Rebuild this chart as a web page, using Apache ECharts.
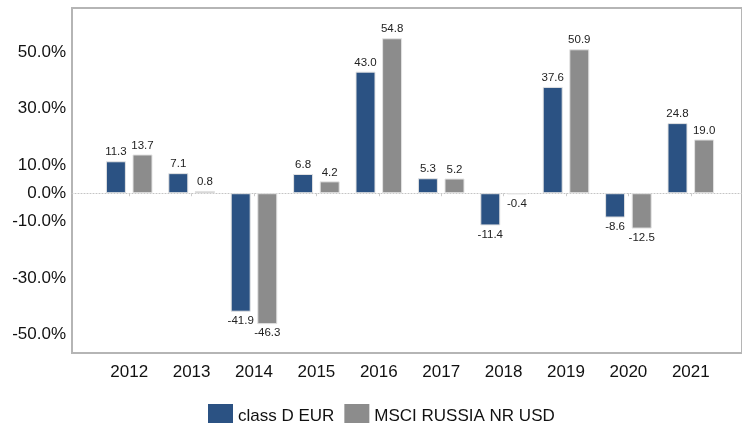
<!DOCTYPE html>
<html>
<head>
<meta charset="utf-8">
<script src="https://cdn.jsdelivr.net/npm/echarts@6/dist/echarts.min.js"></script>
<style>
  html, body { margin: 0; padding: 0; background: #fff; }
  #chart { width: 742px; height: 423px; }
</style>
</head>
<body>
<div id="chart"></div>
<script>
var years = ['2012', '2013', '2014', '2015', '2016', '2017', '2018', '2019', '2020', '2021'];
var classD = [11.3, 7.1, -41.9, 6.8, 43.0, 5.3, -11.4, 37.6, -8.6, 24.8];
var msciRussia = [13.7, 0.8, -46.3, 4.2, 54.8, 5.2, -0.4, 50.9, -12.5, 19.0];
var yTicks = [-50, -30, -10, 0, 10, 30, 50];

var font = 'Liberation Sans, Arial, sans-serif';
var yMin = -56.5, yMax = 65.5;

var myChart = echarts.init(document.getElementById('chart'));

function barSeries(name, data, color) {
    return {
        name: name,
        type: 'bar',
        xAxisIndex: 1,
        yAxisIndex: 1,
        data: data,
        barWidth: 20,
        barGap: '33%',
        itemStyle: { color: color, borderColor: '#e4e4e4', borderWidth: 1 },
        label: {
            show: true,
            position: 'outside',
            distance: 3,
            fontFamily: font,
            fontSize: 11.5,
            color: '#222',
            formatter: function (p) { return p.value.toFixed(1); }
        }
    };
}

var option = {
    animation: false,
    textStyle: { fontFamily: font },
    grid: [
        { left: 72, right: -2, top: 8, bottom: 70, show: true, borderColor: '#b5b5b5', borderWidth: 2 },
        { left: 98, right: 20, top: 8, bottom: 70 }
    ],
    legend: {
        left: 203,
        top: 399,
        itemWidth: 25,
        itemHeight: 24,
        itemGap: 10,
        icon: 'rect',
        itemStyle: { borderWidth: 0 },
        textStyle: { fontFamily: font, fontSize: 17, color: '#111' },
        data: ['class D EUR', 'MSCI RUSSIA NR USD']
    },
    xAxis: [
        {
            // zero line across the whole frame
            gridIndex: 0, type: 'value', min: 0, max: 1,
            axisLine: { show: true, onZero: true, lineStyle: { color: '#c4c4c4', type: [1, 2], width: 1 } },
            axisTick: { show: false },
            axisLabel: { show: false }, splitLine: { show: false }
        },
        {
            gridIndex: 1, type: 'category', data: years,
            axisLine: { show: false },
            axisTick: { show: true, alignWithLabel: true, length: 3, lineStyle: { color: '#ccc' } },
            axisLabel: { fontFamily: font, fontSize: 17, color: '#111', margin: 11 }
        }
    ],
    yAxis: [
        {
            gridIndex: 0, type: 'value', min: yMin, max: yMax,
            axisLine: { show: false }, axisTick: { show: false },
            splitLine: { show: false },
            axisLabel: {
                customValues: yTicks,
                fontFamily: font, fontSize: 17, color: '#111', margin: 6,
                formatter: function (v) { return v.toFixed(1) + '%'; }
            }
        },
        {
            gridIndex: 1, type: 'value', min: yMin, max: yMax,
            axisLine: { show: false }, axisTick: { show: false },
            axisLabel: { show: false }, splitLine: { show: false }
        }
    ],
    series: [
        barSeries('class D EUR', classD, '#2b5283'),
        barSeries('MSCI RUSSIA NR USD', msciRussia, '#8c8c8c')
    ]
};

myChart.setOption(option);
</script>
</body>
</html>
